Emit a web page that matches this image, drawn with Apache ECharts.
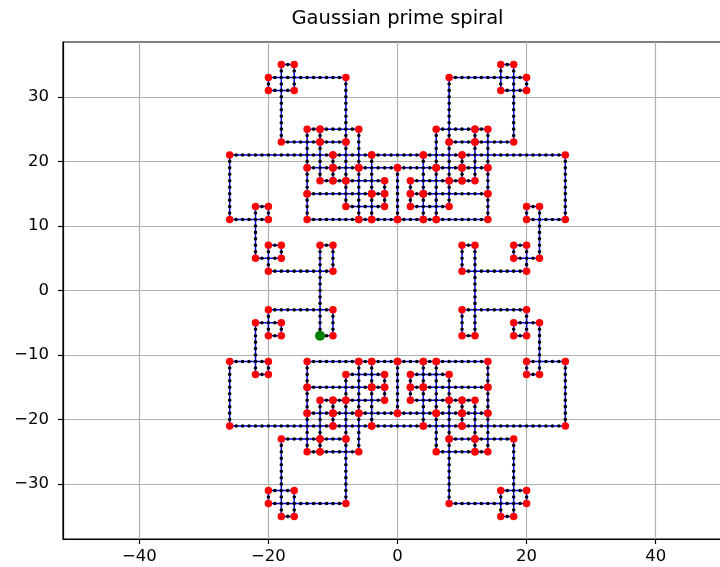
<!DOCTYPE html>
<html>
<head>
<meta charset="utf-8">
<title>Gaussian prime spiral</title>
<script src="https://cdn.jsdelivr.net/npm/echarts@6/dist/echarts.min.js"></script>
<style>
	html, body { margin: 0; padding: 0; background: #fff; }
	#chart { width: 720px; height: 567px; }
</style>
</head>
<body>
<div id="chart"></div>
<script>
// 螺旋的拐点（高斯素数），按行走顺序
var cornerX = [
	-12,-10,-10,-20,-20,-18,-18,-22,-22,-20, -20,-26,-26,-10,-10,-14,-14,-12,-12,-18,
	-18,-16,-16,-20,-20,-8,-8,-12,-12,-6, -6,-10,-10,-4,-4,-14,-14,-10,-10,-12,
	-12,-8,-8,-10,-10,-6,-6,-14,-14,-4, -4,-6,-6,0,0,-4,-4,-2,-2,-8,
	-8,-2,-2,-4,-4,4,4,2,2,8, 8,2,2,4,4,0,0,6,6,4,
	4,14,14,6,6,10,10,8,8,12, 12,10,10,14,14,4,4,10,10,6,
	6,12,12,8,8,20,20,16,16,18, 18,12,12,14,14,10,10,26,26,20,
	20,22,22,18,18,20,20,10,10,12,
	12,10,10,20,20,18,18,22,22,20, 20,26,26,10,10,14,14,12,12,18,
	18,16,16,20,20,8,8,12,12,6, 6,10,10,4,4,14,14,10,10,12,
	12,8,8,10,10,6,6,14,14,4, 4,6,6,0,0,4,4,2,2,8,
	8,2,2,4,4,-4,-4,-2,-2,-8, -8,-2,-2,-4,-4,0,0,-6,-6,-4,
	-4,-14,-14,-6,-6,-10,-10,-8,-8,-12, -12,-10,-10,-14,-14,-4,-4,-10,-10,-6,
	-6,-12,-12,-8,-8,-20,-20,-16,-16,-18, -18,-12,-12,-14,-14,-10,-10,-26,-26,-20,
	-20,-22,-22,-18,-18,-20,-20,-10,-10,-12,
	-12
];
var cornerY = [
	-7,-7,-3,-3,-7,-7,-5,-5,-13,-13, -11,-11,-21,-21,-19,-19,-25,-25,-23,-23,
	-35,-35,-31,-31,-33,-33,-23,-23,-25,-25, -19,-19,-21,-21,-15,-15,-19,-19,-17,-17,
	-23,-23,-17,-17,-19,-19,-11,-11,-15,-15, -11,-11,-19,-19,-11,-11,-15,-15,-13,-13,
	-17,-17,-15,-15,-21,-21,-15,-15,-17,-17, -13,-13,-15,-15,-11,-11,-19,-19,-11,-11,
	-15,-15,-11,-11,-19,-19,-17,-17,-23,-23, -17,-17,-19,-19,-15,-15,-21,-21,-19,-19,
	-25,-25,-23,-23,-33,-33,-31,-31,-35,-35, -23,-23,-25,-25,-19,-19,-21,-21,-11,-11,
	-13,-13,-5,-5,-7,-7,-3,-3,-7,-7,
	7,7,3,3,7,7,5,5,13,13, 11,11,21,21,19,19,25,25,23,23,
	35,35,31,31,33,33,23,23,25,25, 19,19,21,21,15,15,19,19,17,17,
	23,23,17,17,19,19,11,11,15,15, 11,11,19,19,11,11,15,15,13,13,
	17,17,15,15,21,21,15,15,17,17, 13,13,15,15,11,11,19,19,11,11,
	15,15,11,11,19,19,17,17,23,23, 17,17,19,19,15,15,21,21,19,19,
	25,25,23,23,33,33,31,31,35,35, 23,23,25,25,19,19,21,21,11,11,
	13,13,5,5,7,7,3,3,7,7,
	-7
];
var startPoint = [-12, -7];
var xTicks = [-40, -20, 0, 20, 40];
var yTicks = [-30, -20, -10, 0, 10, 20, 30];

var path = cornerX.map(function (x, i) { return [x, cornerY[i]]; });

var font = 'DejaVu Sans';
var gridTop = 42, gridLeft = 63, gridW = 669, gridH = 497;
var yHalf = 38.5;
var unit = gridH / (2 * yHalf);          // 等比例坐标
var xHalf = gridW / 2 / unit;

function minus(v) { return String(v).replace('-', '\u2212'); }

function axis(min, max, ticks) {
	return {
		type: 'value',
		min: min,
		max: max,
		axisLine: { show: true, onZero: false, lineStyle: { color: '#000', width: 1.2 } },
		axisTick: { show: true, customValues: ticks, length: 5, lineStyle: { color: '#000', width: 1.2 } },
		axisLabel: { customValues: ticks, formatter: minus, color: '#000', fontFamily: font, fontSize: 16.5 },
		splitLine: { show: true, lineStyle: { color: '#b0b0b0', width: 1.2 } }
	};
}

var chart = echarts.init(document.getElementById('chart'), null, { renderer: 'canvas' });

var xAxis = axis(-xHalf, xHalf, xTicks);
xAxis.axisLabel.margin = 9;
var yAxis = axis(-yHalf, yHalf, yTicks);
yAxis.axisLabel.margin = 14;

chart.setOption({
	animation: false,
	graphic: [{
		type: 'text',
		x: gridLeft + gridW / 2,
		y: 19,
		style: { text: 'Gaussian prime spiral', fill: '#000', font: '19.5px "DejaVu Sans"', textAlign: 'center', textVerticalAlign: 'middle' }
	}],
	grid: {
		left: gridLeft, top: gridTop, width: gridW, height: gridH,
		outerBoundsMode: 'none', // 右边框在画面之外
		show: true, borderColor: '#000', borderWidth: 1.2
	},
	xAxis: xAxis,
	yAxis: yAxis,
	series: [{
		name: 'path',
		type: 'line',
		data: path,
		symbol: 'none',
		lineStyle: { color: '#0000ff', width: 1.5 },
		z: 2
	}, {
		name: 'steps',
		type: 'line',
		data: path,
		symbol: 'none',
		// 每个整数格点一个黑点
		lineStyle: { color: '#000', width: 3.6, cap: 'round', type: [0.01, unit - 0.01] },
		z: 3
	}, {
		name: 'primes',
		type: 'scatter',
		data: path,
		symbol: 'circle',
		symbolSize: 7.5,
		itemStyle: { color: '#ff0000', opacity: 1 },
		z: 4
	}, {
		name: 'start',
		type: 'scatter',
		data: [startPoint],
		symbol: 'circle',
		symbolSize: 10,
		itemStyle: { color: '#008000', opacity: 1 },
		z: 5
	}]
});
</script>
</body>
</html>
